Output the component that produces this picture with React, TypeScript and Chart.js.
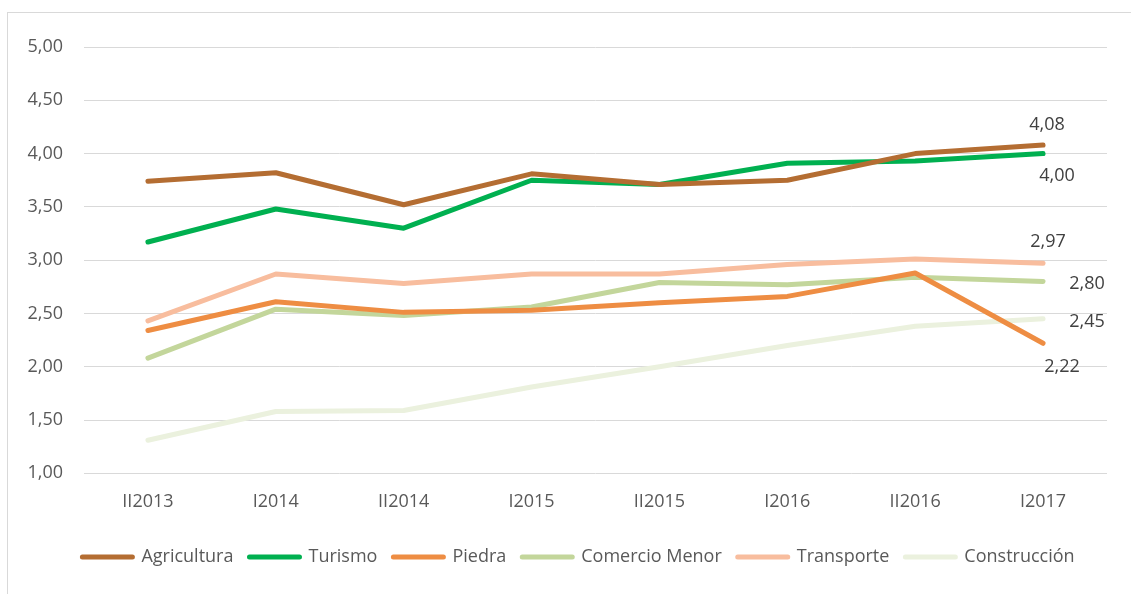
import React, { useEffect, useRef } from 'react';
import { Chart, registerables } from 'chart.js';

Chart.register(...registerables);

const categories = ['II2013', 'I2014', 'II2014', 'I2015', 'II2015', 'I2016', 'II2016', 'I2017'];

const agricultura = [3.74, 3.82, 3.52, 3.81, 3.71, 3.75, 4.0, 4.08];
const turismo = [3.17, 3.48, 3.3, 3.75, 3.71, 3.91, 3.93, 4.0];
const piedra = [2.34, 2.61, 2.51, 2.53, 2.6, 2.66, 2.88, 2.22];
const comercioMenor = [2.08, 2.54, 2.48, 2.56, 2.79, 2.77, 2.84, 2.8];
const transporte = [2.43, 2.87, 2.78, 2.87, 2.87, 2.96, 3.01, 2.97];
const construccion = [1.31, 1.58, 1.59, 1.81, 2.0, 2.2, 2.38, 2.45];

const seriesNames = ['Agricultura', 'Turismo', 'Piedra', 'Comercio Menor', 'Transporte', 'Construcción'];
const seriesValues = [agricultura, turismo, piedra, comercioMenor, transporte, construccion];
const seriesColors = ['#B46D32', '#00B050', '#EE8D43', '#C3D69B', '#F8BD9E', '#EBF1DE'];

const yMin = 1;
const yMax = 5;
const yStep = 0.5;

// style: offsets of the end-value label from the last point (px)
const endLabelOffsets: [number, number][] = [
  [4, -20],
  [14, 22],
  [19, 23.5],
  [44, 2],
  [5, -21],
  [44, 3],
];

const FONT = '"Open Sans", "Noto Sans", sans-serif';
const fmt = (v: number) => Number(v).toFixed(2).replace('.', ',');

const endLabels = {
  id: 'endLabels',
  afterDatasetsDraw(chart: any) {
    const ctx = chart.ctx;
    ctx.save();
    ctx.font = `18px ${FONT}`;
    ctx.fillStyle = '#404040';
    ctx.textAlign = 'center';
    ctx.textBaseline = 'middle';
    chart.data.datasets.forEach((ds: any, i: number) => {
      const meta = chart.getDatasetMeta(i);
      const pt = meta.data[meta.data.length - 1];
      const v = ds.data[ds.data.length - 1];
      const [dx, dy] = endLabelOffsets[i];
      ctx.fillText(fmt(v), pt.x + dx, pt.y + dy);
    });
    ctx.restore();
  },
};

export default function App() {
  const ref = useRef<HTMLCanvasElement | null>(null);

  useEffect(() => {
    if (!ref.current) return;
    const chart = new Chart(ref.current, {
      type: 'line',
      data: {
        labels: categories,
        datasets: seriesNames.map((name, i) => ({
          label: name,
          data: seriesValues[i],
          borderColor: seriesColors[i],
          backgroundColor: seriesColors[i],
          borderWidth: 5,
          borderCapStyle: 'round',
          borderJoinStyle: 'round',
          pointRadius: 0,
          pointHoverRadius: 0,
          tension: 0,
          fill: false,
        })),
      },
      options: {
        responsive: false,
        animation: false,
        layout: { padding: { top: 34, left: 0, right: 0, bottom: 18 } },
        plugins: {
          tooltip: { enabled: false },
          legend: {
            position: 'bottom',
            labels: {
              usePointStyle: true,
              pointStyleWidth: 50,
              boxHeight: 5,
              padding: 16,
              color: '#595959',
              font: { family: FONT, size: 18 },
              generateLabels: (chart: any) => {
                const items = Chart.defaults.plugins.legend.labels.generateLabels(chart);
                return items.map((it: any) => ({
                  ...it,
                  pointStyle: 'line',
                  lineWidth: 5,
                  lineCap: 'round',
                  strokeStyle: seriesColors[it.datasetIndex],
                  fillStyle: seriesColors[it.datasetIndex],
                }));
              },
            },
          },
        },
        scales: {
          x: {
            offset: true,
            grid: { display: false, drawTicks: false },
            border: { display: false },
            ticks: {
              color: '#595959',
              font: { family: FONT, size: 18 },
              padding: 18,
              autoSkip: false,
              maxRotation: 0,
            },
            afterFit: (s: any) => {
              s.height = 58.7;
            },
          },
          y: {
            min: yMin,
            max: yMax,
            ticks: {
              stepSize: yStep,
              callback: (v: any) => fmt(v),
              color: '#595959',
              font: { family: FONT, size: 18 },
              padding: 21,
            },
            grid: { color: '#D9D9D9', lineWidth: 1, drawTicks: false },
            border: { display: false },
            afterFit: (s: any) => {
              s.width = 76;
            },
          },
          yRight: {
            position: 'right',
            display: true,
            grid: { display: false, drawTicks: false },
            border: { display: false },
            ticks: { display: false },
            afterFit: (s: any) => {
              s.width = 42;
            },
          },
        },
      },
      plugins: [endLabels],
    } as any);
    return () => chart.destroy();
  }, []);

  return (
    <div
      style={{
        position: 'fixed',
        left: 0,
        top: 0,
        width: 1131,
        height: 594,
        overflow: 'hidden',
        background: '#ffffff',
      }}
    >
      <div
        style={{
          position: 'absolute',
          left: 7,
          top: 12,
          width: 1143,
          height: 620,
          border: '1px solid #D9D9D9',
          boxSizing: 'border-box',
        }}
      />
      <canvas
        ref={ref}
        width={1141}
        height={581}
        style={{ position: 'absolute', left: 8, top: 13, width: 1141, height: 581 }}
      />
    </div>
  );
}
